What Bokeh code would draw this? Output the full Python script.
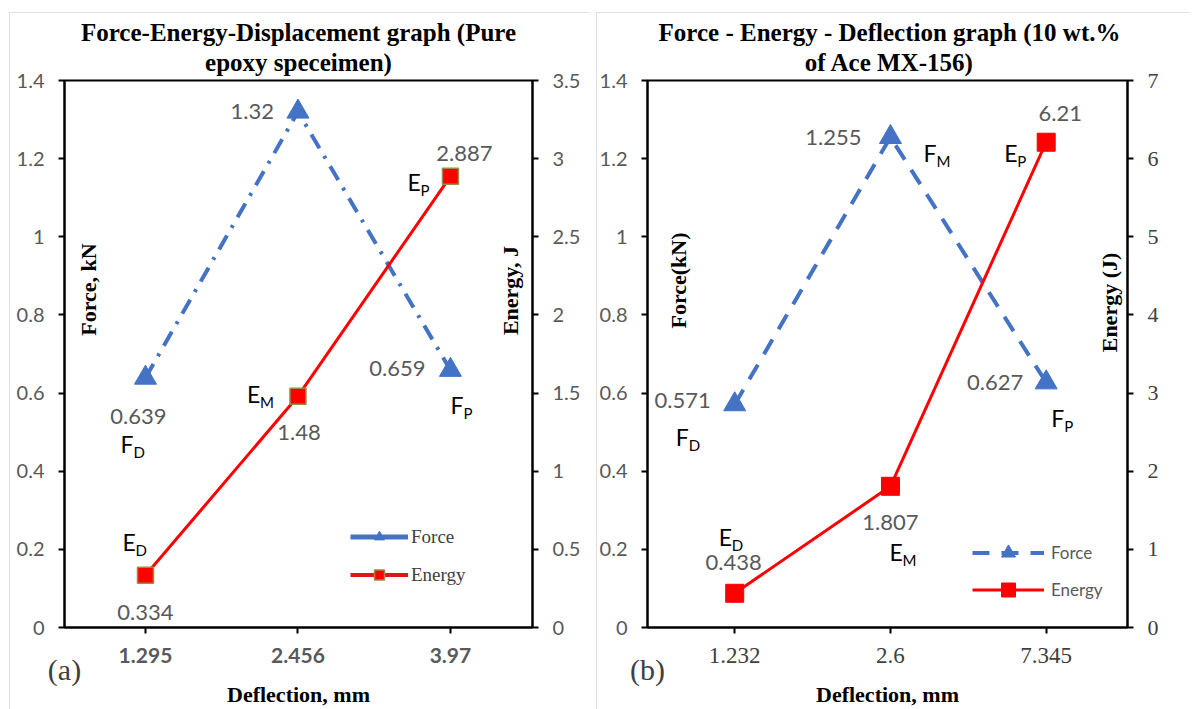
import math
from bokeh.plotting import figure
from bokeh.models import (Range1d, LinearAxis, FixedTicker, NumeralTickFormatter,
                          Label, Legend, LegendItem, ColumnDataSource, Spacer)
from bokeh.layouts import row, column
from bokeh.embed import file_html
from bokeh.resources import INLINE
from bokeh.core.properties import value

# ---------------- data ----------------
deflection_a = ["1.295", "2.456", "3.97"]
force_a = [0.639, 1.32, 0.659]
energy_a = [0.334, 1.48, 2.887]

deflection_b = ["1.232", "2.6", "7.345"]
force_b = [0.571, 1.255, 0.627]
energy_b = [0.438, 1.807, 6.21]

stage_subscripts = ["D", "M", "P"]
force_ticks = [0, 0.2, 0.4, 0.6, 0.8, 1, 1.2, 1.4]
energy_ticks_a = [0, 0.5, 1, 1.5, 2, 2.5, 3, 3.5]
energy_ticks_b = [0, 1, 2, 3, 4, 5, 6, 7]

title_a = ["Force-Energy-Displacement graph (Pure", "epoxy speceimen)"]
title_b = ["Force - Energy - Deflection graph (10 wt.%", "of Ace MX-156)"]
axis_titles_a = ["Force, kN", "Energy, J", "Deflection, mm"]
axis_titles_b = ["Force(kN)", "Energy (J)", "Deflection, mm"]
series_names = ["Force", "Energy"]

# ---------------- style ----------------
BLUE = "#4472C4"
RED = "#FF0000"
GRAY = "#595959"
DARK = "#404040"
SANS = "Lato"
SERIF = "Liberation Serif"
FIG_H = 697
TOP = 68
BOTTOM = 81

style_a = dict(
    tag="(a)", tag_dx=0, width=580, ml=55, mr=57, xlim=(-0.531, 0.538),
    force_dash="16 9 3 9", sq_size=16, sq_line="#9E8B45", sq_lw=1.5,
    left_font=SANS, left_size="20px", right_font=SANS, right_size="20px", right_color=GRAY,
    x_font=SANS, x_size="21px", x_style="bold", x_color=GRAY,
    eformat="0.[0]",
    fval=[(-7, 39, "center"), (-24, 0, "right"), (-25, -2, "right")],
    evals=[(0, 37, "center"), (1, 36, "center"), (14, -23, "center")],
    fletters=[(0, -25, 66), (2, 0, 35)],
    eletters=[(0, -23, -33), (1, -51, -2), (2, -43, 6)],
    ytitles=[(24, 338), (446, 337)],
    legend_loc=(286, 40), legend_spacing=13, legend_gh=25, legend_gw=58, legend_standoff=3,
    legend_font=SERIF, legend_size="19px", legend_color=DARK,
)
style_b = dict(
    tag="(b)", tag_dx=0, width=594, ml=47, mr=63, xlim=(-0.56, 0.522),
    force_dash="17 12", sq_size=18, sq_line=RED, sq_lw=1,
    left_font=SANS, left_size="20px", right_font=SERIF, right_size="22px", right_color=DARK,
    x_font=SERIF, x_size="23px", x_style="normal", x_color=DARK,
    eformat="0",
    fval=[(-24, -4, "right"), (-29, 0, "right"), (-23, 0, "right")],
    evals=[(-1, -31, "center"), (0, 36, "center"), (14, -29, "center")],
    fletters=[(0, -59, 33), (1, 33, 16), (2, 5, 35)],
    eletters=[(0, -16, -56), (1, -1, 66), (2, -42, 11)],
    ytitles=[(31, 347), (462, 325)],
    legend_loc=(325, 20), legend_spacing=2, legend_gh=35, legend_gw=72, legend_standoff=7,
    legend_font=SANS, legend_size="17px", legend_color=GRAY,
)


def style_axis(ax, font, size, color, fstyle="normal"):
    ax.axis_line_color = "black"
    ax.axis_line_width = 2
    ax.major_tick_line_color = "black"
    ax.major_tick_line_width = 2
    ax.major_tick_out = 6
    ax.major_tick_in = 0
    ax.minor_tick_line_color = None
    ax.major_label_text_font = font
    ax.major_label_text_font_size = size
    ax.major_label_text_color = color
    ax.major_label_text_font_style = fstyle
    ax.major_label_standoff = 14


def build(cats, force, energy, eticks, title, axis_titles, st):
    fw = st["width"] - st["ml"] - st["mr"]
    pos = list(range(len(cats)))          # category slots on the x axis
    p = figure(x_range=Range1d(pos[0] + st["xlim"][0], pos[-1] + st["xlim"][1]),
               y_range=Range1d(force_ticks[0], force_ticks[-1]),
               width=st["width"], height=FIG_H,
               min_border_left=st["ml"], min_border_right=st["mr"],
               min_border_top=TOP, min_border_bottom=BOTTOM,
               output_backend="svg", toolbar_location=None,
               background_fill_color="white", border_fill_color="white",
               styles={"outline": "1px solid #d6d6d6", "outline-offset": "-1px"})
    p.extra_y_ranges = {"energy": Range1d(eticks[0], eticks[-1])}
    p.extra_x_ranges = {"tag": Range1d(-st["tag_dx"], fw - st["tag_dx"])}
    p.xgrid.visible = False
    p.ygrid.visible = False
    p.outline_line_color = "black"
    p.outline_line_width = 2
    p.outline_line_alpha = 1

    # axes
    yl = p.yaxis[0]
    yl.ticker = FixedTicker(ticks=force_ticks)
    yl.formatter = NumeralTickFormatter(format="0.[0]")
    style_axis(yl, st["left_font"], st["left_size"], GRAY)
    yr = LinearAxis(y_range_name="energy", ticker=FixedTicker(ticks=eticks),
                    formatter=NumeralTickFormatter(format=st["eformat"]))
    style_axis(yr, st["right_font"], st["right_size"], st["right_color"])
    p.add_layout(yr, "right")
    xa = p.xaxis[0]
    xa.ticker = FixedTicker(ticks=pos)
    xa.major_label_overrides = {i: c for i, c in zip(pos, cats)}
    style_axis(xa, st["x_font"], st["x_size"], st["x_color"], st["x_style"])

    # second bottom axis: carries the panel tag and the x-axis title
    tag_ax = LinearAxis(x_range_name="tag", ticker=FixedTicker(ticks=[0]),
                        major_label_overrides={0: st["tag"]},
                        axis_label=axis_titles[2])
    tag_ax.axis_line_color = None
    tag_ax.major_tick_line_color = None
    tag_ax.minor_tick_line_color = None
    tag_ax.major_tick_out = 0
    tag_ax.major_tick_in = 0
    tag_ax.major_label_standoff = -13
    tag_ax.major_label_text_font = SERIF
    tag_ax.major_label_text_font_size = "30px"
    tag_ax.major_label_text_color = DARK
    tag_ax.axis_label_standoff = -7
    tag_ax.axis_label_text_font = SERIF
    tag_ax.axis_label_text_font_size = "22px"
    tag_ax.axis_label_text_font_style = "bold"
    tag_ax.axis_label_text_color = "black"
    p.add_layout(tag_ax, "below")

    # series
    fl = p.line(pos, force, line_color=BLUE, line_width=4, line_dash=st["force_dash"])
    fs = p.scatter(pos, force, marker="triangle", size=22, fill_color=BLUE, line_color=BLUE)
    el = p.line(pos, energy, y_range_name="energy", line_color=RED, line_width=3)
    es = p.scatter(pos, energy, y_range_name="energy", marker="square", size=st["sq_size"],
                   fill_color=RED, line_color=st["sq_line"], line_width=st["sq_lw"])

    # value labels
    fsrc = ColumnDataSource(dict(x=pos, y=force, t=[f"{v:g}" for v in force],
                                 dx=[o[0] for o in st["fval"]], dy=[o[1] for o in st["fval"]],
                                 al=[o[2] for o in st["fval"]]))
    p.text(x="x", y="y", text="t", x_offset="dx", y_offset="dy", text_align="al",
           text_baseline="middle", text_font=value(SANS), text_font_size="22px",
           text_color=GRAY, source=fsrc)
    esrc = ColumnDataSource(dict(x=pos, y=energy, t=[f"{v:g}" for v in energy],
                                 dx=[o[0] for o in st["evals"]], dy=[o[1] for o in st["evals"]],
                                 al=[o[2] for o in st["evals"]]))
    p.text(x="x", y="y", text="t", x_offset="dx", y_offset="dy", text_align="al",
           text_baseline="middle", text_font=value(SANS), text_font_size="22px",
           text_color=GRAY, source=esrc, y_range_name="energy")

    # point letters with subscripts
    for letter, vals, spec, rng in (("F", force, st["fletters"], "default"),
                                    ("E", energy, st["eletters"], "energy")):
        xs = [pos[i] for i, _, _ in spec]
        ys = [vals[i] for i, _, _ in spec]
        main = ColumnDataSource(dict(x=xs, y=ys, t=[letter] * len(spec),
                                     dx=[d for _, d, _ in spec], dy=[e for _, _, e in spec]))
        sub = ColumnDataSource(dict(x=xs, y=ys, t=[stage_subscripts[i] for i, _, _ in spec],
                                    dx=[d + 13 for _, d, _ in spec], dy=[e + 8 for _, _, e in spec]))
        p.text(x="x", y="y", text="t", x_offset="dx", y_offset="dy", text_align="left",
               text_baseline="middle", text_font=value(SANS), text_font_size="23px",
               text_color="black", source=main, y_range_name=rng)
        p.text(x="x", y="y", text="t", x_offset="dx", y_offset="dy", text_align="left",
               text_baseline="middle", text_font=value(SANS), text_font_size="15px",
               text_color="black", source=sub, y_range_name=rng)

    # legend (panel a legend shows a solid force line)
    if st["tag"] == "(a)":
        nan = [float("nan")] * len(pos)
        f1 = p.line(pos, nan, line_color=BLUE, line_width=5)
        f2 = p.scatter(pos, nan, marker="triangle", fill_color=BLUE, line_color=BLUE)
        e1 = p.line(pos, nan, line_color="#E0141E", line_width=4)
        e2 = p.scatter(pos, nan, marker="square", fill_color=RED, line_color=st["sq_line"], line_width=1.5)
        items = [LegendItem(label=series_names[0], renderers=[f1, f2]),
                 LegendItem(label=series_names[1], renderers=[e1, e2])]
    else:
        items = [LegendItem(label=series_names[0], renderers=[fl, fs]),
                 LegendItem(label=series_names[1], renderers=[el, es])]
    leg = Legend(items=items, location=st["legend_loc"], padding=0, margin=0,
                 spacing=st["legend_spacing"], glyph_width=st["legend_gw"], glyph_height=st["legend_gh"],
                 label_height=20, label_standoff=st["legend_standoff"],
                 label_text_font=st["legend_font"], label_text_font_size=st["legend_size"],
                 label_text_color=st["legend_color"], background_fill_alpha=0,
                 border_line_color=None)
    p.add_layout(leg)

    # axis titles inside the frame
    for txt, (xx, yy) in zip(axis_titles[:2], st["ytitles"]):
        p.add_layout(Label(x=xx, y=yy, x_units="screen", y_units="screen", text=txt,
                           angle=math.pi / 2, text_font=SERIF, text_font_size="22px",
                           text_font_style="bold", text_align="center", text_baseline="middle",
                           text_color="black"))

    # two-line title in the top side panel (second line nearest the frame)
    tops = [Label(x=fw / 2, y=yy, x_units="screen", y_units="screen", text=txt,
                  text_font=SERIF, text_font_size="25px", text_font_style="bold",
                  text_align="center", text_baseline="middle", text_color="black")
            for txt, yy in ((title[1], 18), (title[0], 21))]
    p.above = tops + list(p.above)
    return p


pa = build(deflection_a, force_a, energy_a, energy_ticks_a, title_a, axis_titles_a, style_a)
pb = build(deflection_b, force_b, energy_b, energy_ticks_b, title_b, axis_titles_b, style_b)

layout = column(Spacer(height=12),
                row(Spacer(width=9), pa, Spacer(width=7), pb))

open("out.html", "w").write(file_html(layout, INLINE))
